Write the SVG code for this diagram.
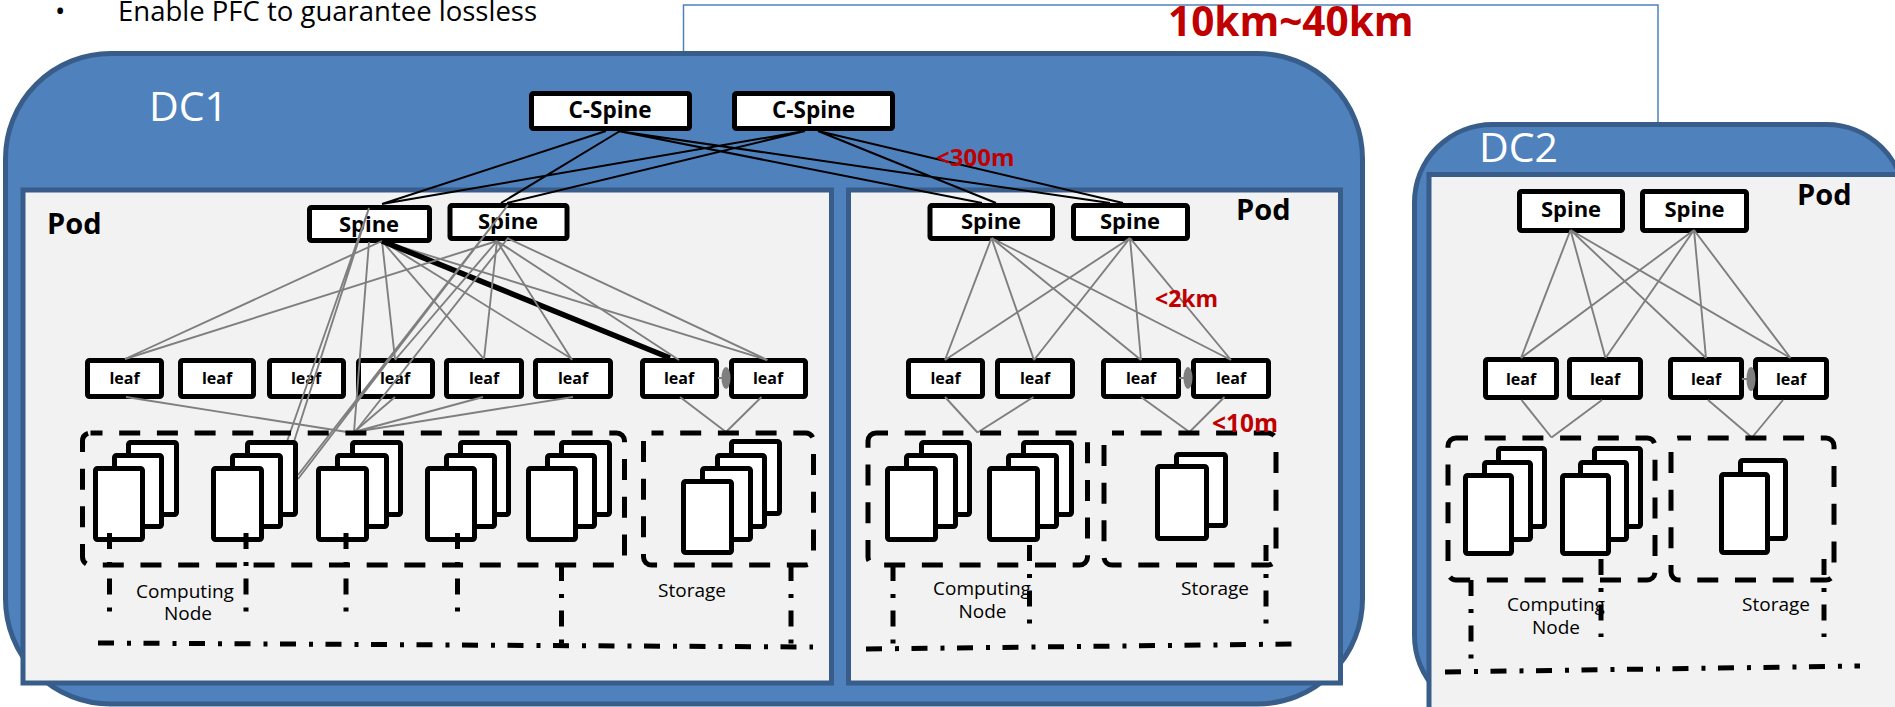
<svg xmlns="http://www.w3.org/2000/svg" width="1895" height="707" viewBox="0 0 1895 707">
<style>
text{font-family:"Open Sans","Noto Sans","Liberation Sans",sans-serif;fill:#000}
.b{font-weight:700;text-anchor:middle}
.sp{font-size:22px}
.lf{font-size:16px}
.pod{font-size:29px;font-weight:700}
.red{font-weight:700;fill:#C00000}
.lab{font-size:19px;text-anchor:middle}
.dc{font-size:41px;fill:#fff}
.outer{fill:#4F81BD;stroke:#385D8A;stroke-width:5}
.podbox{fill:#F2F2F2;stroke:#385D8A;stroke-width:5}
.n{fill:#fff;stroke:#000;stroke-width:5;rx:2px}
.pg{fill:#fff;stroke:#000;stroke-width:5;rx:2px}
.dash{fill:none;stroke:#000;stroke-width:5;stroke-dasharray:21 16.7;stroke-dashoffset:9;rx:8px}
.dd{fill:none;stroke:#000;stroke-width:5;stroke-dasharray:16 13 4 12.5}
.g{stroke:#7F7F7F;stroke-width:1.9;fill:none}
.k{stroke:#000;stroke-width:2;fill:none}
.t{stroke:#000;stroke-width:5.5;fill:none}
.ell{fill:#7F7F7F}
.link{fill:none;stroke:#4F81BD;stroke-width:1.5}
</style>
<g id="bullet"><text x="55" y="21" font-size="27.5">•</text><text x="118" y="21" font-size="27.5">Enable PFC to guarantee lossless</text></g>
<path id="wan-link" class="link" d="M683.5 53V5H1658V123"/>
<g id="DC1"><rect class="outer" x="5.5" y="53.5" width="1357" height="650.5" rx="105"/><text class="dc" x="149" y="121">DC1</text></g>
<g id="DC2"><rect class="outer" x="1414.5" y="124.5" width="490" height="589" rx="78"/><text class="dc" x="1479" y="162">DC2</text></g>
<g id="pod1"><rect class="podbox" x="23" y="190" width="808.5" height="493"/><text class="pod" x="47" y="234">Pod</text></g>
<g id="pod2"><rect class="podbox" x="848.5" y="190" width="492" height="493"/><text class="pod" x="1236" y="220">Pod</text></g>
<g id="pod3"><rect class="podbox" x="1429" y="174.5" width="470" height="535"/><text class="pod" x="1797" y="205">Pod</text></g>

<g id="cspine1"><rect class="n" x="531.5" y="93.5" width="158" height="35"/><text class="b sp" style="font-size:22.5px" x="610" y="118">C-Spine</text></g>
<g id="cspine2"><rect class="n" x="734.5" y="93.5" width="158" height="35"/><text class="b sp" style="font-size:22.5px" x="813.5" y="118">C-Spine</text></g>

<g id="p1-spine1"><rect class="n" x="309.5" y="207.5" width="120" height="33"/><text class="b sp" x="369" y="232">Spine</text></g>
<g id="p1-spine2"><rect class="n" x="450" y="205.5" width="117" height="33"/><text class="b sp" x="508" y="229">Spine</text></g>
<g id="p2-spine1"><rect class="n" x="930" y="205.5" width="122.5" height="33"/><text class="b sp" x="991" y="229">Spine</text></g>
<g id="p2-spine2"><rect class="n" x="1073.5" y="205.5" width="114" height="33"/><text class="b sp" x="1130" y="229">Spine</text></g>
<g id="p3-spine1"><rect class="n" x="1519.5" y="191.5" width="103" height="39"/><text class="b sp" x="1571" y="217">Spine</text></g>
<g id="p3-spine2"><rect class="n" x="1642.5" y="191.5" width="104" height="39"/><text class="b sp" x="1694.5" y="217">Spine</text></g>

<g id="p1-leaf1"><rect class="n" x="87.5" y="360.5" width="74" height="36"/><text class="b lf" x="124.5" y="384">leaf</text></g>
<g id="p1-leaf2"><rect class="n" x="180.5" y="360.5" width="73" height="36"/><text class="b lf" x="217" y="384">leaf</text></g>
<g id="p1-leaf3"><rect class="n" x="269.5" y="360.5" width="74" height="36"/><text class="b lf" x="306" y="384">leaf</text></g>
<g id="p1-leaf4"><rect class="n" x="358.5" y="360.5" width="74" height="36"/><text class="b lf" x="395" y="384">leaf</text></g>
<g id="p1-leaf5"><rect class="n" x="446.5" y="360.5" width="75" height="36"/><text class="b lf" x="484" y="384">leaf</text></g>
<g id="p1-leaf6"><rect class="n" x="535.5" y="360.5" width="75" height="36"/><text class="b lf" x="573" y="384">leaf</text></g>
<g id="p1-leaf7"><rect class="n" x="642.5" y="360.5" width="74" height="36"/><text class="b lf" x="679" y="384">leaf</text></g>
<g id="p1-leaf8"><rect class="n" x="731.5" y="360.5" width="74" height="36"/><text class="b lf" x="768" y="384">leaf</text></g>
<g id="p2-leaf1"><rect class="n" x="908.5" y="360.5" width="74" height="36"/><text class="b lf" x="945.5" y="384">leaf</text></g>
<g id="p2-leaf2"><rect class="n" x="997.5" y="360.5" width="75" height="36"/><text class="b lf" x="1035" y="384">leaf</text></g>
<g id="p2-leaf3"><rect class="n" x="1103.5" y="360.5" width="75" height="36"/><text class="b lf" x="1141" y="384">leaf</text></g>
<g id="p2-leaf4"><rect class="n" x="1193.5" y="360.5" width="75" height="36"/><text class="b lf" x="1231" y="384">leaf</text></g>
<g id="p3-leaf1"><rect class="n" x="1485.5" y="359.5" width="71" height="38"/><text class="b lf" x="1521" y="385">leaf</text></g>
<g id="p3-leaf2"><rect class="n" x="1569.5" y="359.5" width="71" height="38"/><text class="b lf" x="1605" y="385">leaf</text></g>
<g id="p3-leaf3"><rect class="n" x="1670.5" y="359.5" width="71" height="38"/><text class="b lf" x="1706" y="385">leaf</text></g>
<g id="p3-leaf4"><rect class="n" x="1755.5" y="359.5" width="71" height="38"/><text class="b lf" x="1791" y="385">leaf</text></g>

<g id="connectors">
<path class="k" d="M606 131L382 204M620 131L501 203M805 131L382 204M805 131L507 203M618 131L982 203M618 131L1110 203M818 131L996 203M818 131L1123 203"/>
<path class="g" d="M382 241L125 359M369 208L287.5 440M369 208L294.5 440M369 242L354 432M382 241L395 359M382 241L484 359M382 241L572 359M382 241L767 360"/>
<path class="t" d="M382 241L670 358"/>
<path class="g" d="M497 241L125 359M508 205L298 475M508 205L298 479M508 238L355 432M497 241L395 360M497 241L484 359M497 241L572 360M497 241L679 360M507 238L767.5 360"/>
<path class="g" d="M126 397L347 432M395 397L354 432M483 397L354 432M573 397L354 432M680 397L726 432M761.5 397L726 432"/>
<path class="g" d="M991.5 238L945 360M991.5 238L1034 360M991.5 238L1141 360M991.5 238L1231 360M1130 238L945 360M1130 238L1034 360M1130 238L1141 360M1130 238L1231 360"/>
<path class="g" d="M945 397L977.5 432.5M1033.5 397L977.5 432.5M1141 397L1189.5 432M1224.5 397L1189.5 432"/>
<path class="g" d="M1570.5 230L1521 358M1570.5 230L1605.5 358M1570.5 230L1706 358M1570.5 230L1790.5 358M1694 230L1521 358M1694 230L1605.5 358M1694 230L1706 358M1694 230L1790.5 358"/>
<path class="g" d="M1521.5 400L1551.5 437.5M1602 400L1551.5 437.5M1708 400L1752 437.5M1783 400L1752 437.5"/>
<path class="g" d="M718 378H726M1179 378H1188M1742 379H1751"/>
</g>
<ellipse class="ell" cx="726" cy="378" rx="4.5" ry="11"/>
<ellipse class="ell" cx="1188" cy="378" rx="4.5" ry="11"/>
<ellipse class="ell" cx="1751" cy="379" rx="4.5" ry="12"/>

<g id="p1-compute">
<rect class="dash" x="82.5" y="433" width="542" height="132"/>
<g id="p1-stack1"><rect class="pg" x="128.5" y="442.5" width="48" height="72"/><rect class="pg" x="114.5" y="455.5" width="47" height="71"/><rect class="pg" x="95.5" y="468.5" width="47" height="71"/></g>
<g id="p1-stack2"><rect class="pg" x="247.5" y="442.5" width="48" height="72"/><rect class="pg" x="232.5" y="455.5" width="48" height="71"/><rect class="pg" x="213.5" y="468.5" width="48" height="71"/></g>
<g id="p1-stack3"><rect class="pg" x="352.5" y="442.5" width="48" height="72"/><rect class="pg" x="337.5" y="455.5" width="49" height="71"/><rect class="pg" x="318.5" y="468.5" width="48" height="71"/></g>
<g id="p1-stack4"><rect class="pg" x="460.5" y="442.5" width="48" height="72"/><rect class="pg" x="446.5" y="455.5" width="48" height="71"/><rect class="pg" x="427.5" y="468.5" width="47" height="71"/></g>
<g id="p1-stack5"><rect class="pg" x="561.5" y="442.5" width="48" height="72"/><rect class="pg" x="547.5" y="455.5" width="47" height="71"/><rect class="pg" x="528.5" y="468.5" width="47" height="71"/></g>
<text class="lab" x="185" y="598">Computing</text><text class="lab" x="188" y="620">Node</text>
</g>
<g id="p1-storage">
<rect class="dash" x="643.5" y="433" width="170" height="132"/>
<rect class="pg" x="731.5" y="441.5" width="48" height="72"/><rect class="pg" x="717.5" y="455.5" width="47" height="71"/><rect class="pg" x="702.5" y="468.5" width="48" height="71"/><rect class="pg" x="683.5" y="481.5" width="48" height="71"/>
<text class="lab" x="692" y="597">Storage</text>
</g>
<g id="p2-compute">
<rect class="dash" x="868" y="433" width="219.5" height="132"/>
<g id="p2-stack1"><rect class="pg" x="921.5" y="442.5" width="48" height="72"/><rect class="pg" x="906.5" y="455.5" width="49" height="71"/><rect class="pg" x="887.5" y="468.5" width="48" height="71"/></g>
<g id="p2-stack2"><rect class="pg" x="1023.5" y="442.5" width="48" height="72"/><rect class="pg" x="1008.5" y="455.5" width="48" height="71"/><rect class="pg" x="989.5" y="468.5" width="48" height="71"/></g>
<text class="lab" x="982" y="595">Computing</text><text class="lab" x="982.5" y="618">Node</text>
</g>
<g id="p2-storage">
<rect class="dash" x="1104" y="433" width="172" height="132"/>
<rect class="pg" x="1176.5" y="454.5" width="49" height="71"/><rect class="pg" x="1157.5" y="466.5" width="49" height="72"/>
<text class="lab" x="1215" y="595">Storage</text>
</g>
<g id="p3-compute">
<rect class="dash" x="1448" y="438" width="207" height="142"/>
<g id="p3-stack1"><rect class="pg" x="1498.5" y="448.5" width="46" height="78"/><rect class="pg" x="1484.5" y="462.5" width="46" height="77"/><rect class="pg" x="1465.5" y="475.5" width="46" height="78"/></g>
<g id="p3-stack2"><rect class="pg" x="1594.5" y="448.5" width="46" height="78"/><rect class="pg" x="1580.5" y="462.5" width="46" height="77"/><rect class="pg" x="1562.5" y="475.5" width="46" height="78"/></g>
<text class="lab" x="1556" y="611">Computing</text><text class="lab" x="1556" y="634">Node</text>
</g>
<g id="p3-storage">
<rect class="dash" x="1671" y="438" width="163" height="142"/>
<rect class="pg" x="1740.5" y="460.5" width="45" height="78"/><rect class="pg" x="1721.5" y="474.5" width="46" height="78"/>
<text class="lab" x="1776" y="611">Storage</text>
</g>

<g id="trace-lines">
<path class="dd" d="M109.5 533V613M246 533V613M346 533V613M457.5 533V613M561.5 565V647M791 565V647"/>
<path class="dd" d="M98 643L813 647"/>
<path class="dd" d="M893 565V645M1029.5 545V625M1266 545V625"/>
<path class="dd" d="M866 649L1293.5 644"/>
<path class="dd" d="M1471 580V660M1601 559V637M1824 559V637"/>
<path class="dd" d="M1445 672L1860 666"/>
</g>
<g id="labels">
<text class="red" x="1168" y="36" font-size="40.5">10km~40km</text>
<text class="red" x="936" y="166" font-size="24">&lt;300m</text>
<text class="red" x="1155" y="307" font-size="23">&lt;2km</text>
<text class="red" x="1212" y="432" font-size="24.5">&lt;10m</text>
</g>
</svg>
